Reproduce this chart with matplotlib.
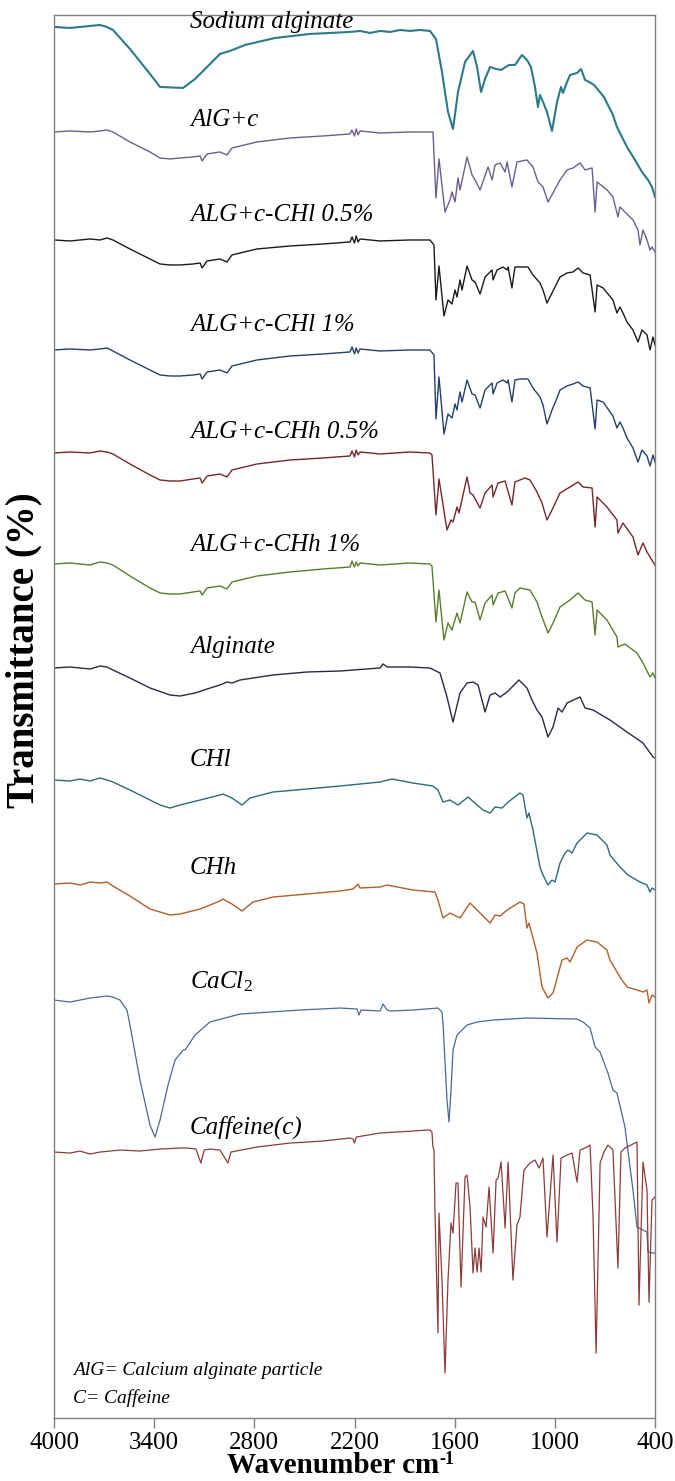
import matplotlib
matplotlib.use("Agg")
import matplotlib.pyplot as plt

# FTIR spectra, stacked. Values are relative transmittance (a.u.) of each trace,
# 0 = its own baseline at 4000 cm-1; offsets place the traces one above another.

sa_wn = [4000, 3904, 3784, 3724, 3683, 3647, 3545, 3425, 3365, 3227, 3155, 3107, 3006, 2946, 2856,
         2676, 2467, 2227, 2167, 2107, 2047, 1987, 1927, 1868, 1808, 1748, 1712, 1676, 1640, 1610,
         1580, 1538, 1490, 1466, 1442, 1418, 1388, 1352, 1322, 1275, 1239, 1197, 1167, 1143, 1119,
         1101, 1089, 1071, 1047, 1017, 987, 963, 951, 927, 909, 867, 843, 819, 795, 765, 706, 652,
         628, 568, 520, 478, 442, 418, 400]
sa_t = [0, -1, 1, 2, 0, -3, -22, -47, -60, -61, -52, -44, -27, -24, -18,
        -11, -7, -5, -4, -6, -4, -5, -3, -4, -3, -4, -12, -45, -85, -102,
        -65, -35, -24, -40, -65, -52, -40, -42, -43, -38, -38, -28, -33, -40, -60,
        -80, -68, -75, -85, -104, -75, -60, -66, -55, -48, -46, -42, -53, -55, -58, -70, -88,
        -100, -120, -133, -145, -153, -160, -170]

algc_wn = [4000, 3904, 3784, 3724, 3683, 3647, 3545, 3425, 3365, 3305, 3245, 3167, 3125, 3113, 3083,
           3006, 2964, 2934, 2784, 2586, 2389, 2227, 2215, 2200, 2190, 2179, 2167, 2047, 1868, 1748,
           1730, 1712, 1694, 1658, 1628, 1616, 1598, 1580, 1568, 1526, 1496, 1478, 1448, 1400, 1376,
           1358, 1328, 1298, 1286, 1257, 1227, 1167, 1131, 1101, 1071, 1041, 1011, 969, 927, 891,
           849, 819, 777, 759, 747, 687, 652, 622, 610, 532, 502, 490, 472, 448, 430, 418, 400]
algc_t = [0, 1, 0, 1, 2, 0, -10, -20, -26, -27, -26, -25, -24, -29, -22,
          -20, -23, -16, -10, -6, -4, -2, 2, -4, 3, -3, 1, -1, 0, 0,
          0, -66, -27, -80, -68, -60, -70, -46, -58, -25, -43, -48, -58, -35, -48,
          -33, -31, -40, -30, -55, -30, -28, -35, -50, -55, -70, -61, -48, -38, -36,
          -31, -38, -36, -80, -50, -58, -65, -85, -75, -88, -98, -113, -98, -108, -118, -115, -120]

# wavenumbers of the flat high-frequency part, shared by the ALG+c-CH blends
blend_left_wn = [4000, 3904, 3784, 3724, 3683, 3647, 3545, 3425, 3365, 3305, 3245, 3167, 3125, 3113,
                 3083, 3006, 2964, 2934, 2784, 2586, 2389, 2227, 2215, 2200, 2190, 2179, 2167, 2047,
                 1868, 1748]

chl05_wn = blend_left_wn + [1724, 1712, 1694, 1664, 1640, 1616, 1598, 1586, 1568, 1556, 1526, 1496,
                            1478, 1448, 1418, 1376, 1370, 1346, 1310, 1286, 1280, 1257, 1239, 1209,
                            1161, 1131, 1089, 1071, 1047, 1017, 987, 969, 927, 891, 861, 831, 789,
                            759, 747, 711, 652, 628, 610, 592, 568, 532, 502, 478, 448, 430, 412, 400]
chl05_t = [0, -1, 1, 0, 2, 0, -9, -19, -24, -25, -25, -24, -23, -28,
           -21, -19, -22, -15, -9, -6, -4, -2, 3, -3, 4, -2, 1, -1,
           0, 0,
           -5, -60, -26, -76, -60, -64, -50, -57, -40, -50, -26, -40,
           -42, -54, -37, -30, -40, -30, -27, -30, -27, -48, -27, -27,
           -27, -35, -43, -50, -63, -53, -43, -37, -33, -32, -28, -33, -35,
           -72, -45, -48, -60, -73, -67, -73, -82, -90, -102, -90, -95, -110, -97, -105]

chl1_wn = chl05_wn
chl1_t = [0, 1, 0, 1, 2, -1, -10, -20, -25, -26, -26, -25, -24, -29,
          -22, -20, -23, -16, -10, -6, -4, -2, 3, -4, 2, -3, 1, -1,
          0, 0,
          -5, -69, -27, -84, -64, -68, -54, -60, -42, -52, -30, -44,
          -45, -58, -40, -33, -44, -33, -30, -33, -30, -52, -30, -29,
          -29, -38, -47, -55, -74, -60, -48, -40, -36, -34, -32, -36, -38,
          -79, -50, -52, -66, -78, -72, -78, -88, -98, -112, -100, -106, -116, -105, -112]

chh05_wn = blend_left_wn + [1736, 1712, 1694, 1646, 1622, 1610, 1586, 1574, 1526, 1508, 1490, 1448,
                            1418, 1376, 1370, 1340, 1298, 1257, 1239, 1179, 1149, 1107, 1077, 1047,
                            1017, 969, 909, 861, 831, 777, 759, 747, 688, 628, 622, 592, 532, 502,
                            472, 448, 430, 412, 400]
chh05_t = [0, 1, 0, 2, 1, -1, -11, -22, -27, -28, -28, -26, -25, -30,
           -23, -21, -24, -17, -11, -7, -5, -3, 2, -4, 3, -2, 1, -1,
           1, 0,
           -2, -62, -26, -77, -67, -69, -54, -60, -24, -40, -42, -55,
           -40, -32, -44, -30, -28, -52, -29, -25, -27, -39, -50, -67,
           -57, -40, -34, -29, -34, -35, -74, -44, -54, -67, -80, -70, -84, -102,
           -90, -99, -104, -109, -112]

chh1_wn = blend_left_wn + [1736, 1712, 1694, 1664, 1640, 1616, 1586, 1568, 1526, 1496, 1478, 1448,
                           1418, 1376, 1370, 1340, 1298, 1257, 1239, 1209, 1149, 1107, 1077, 1041,
                           1011, 969, 909, 861, 819, 777, 759, 747, 688, 628, 622, 580, 508, 472,
                           430, 412, 400]
chh1_t = [0, 1, -1, 2, 1, -1, -12, -24, -29, -30, -30, -28, -27, -31,
          -24, -22, -25, -18, -12, -8, -5, -3, 3, -3, 2, -2, 1, -1,
          1, 0,
          -2, -58, -26, -76, -59, -66, -49, -59, -28, -38, -38, -56,
          -39, -31, -41, -29, -27, -44, -29, -24, -26, -38, -53, -69,
          -59, -43, -36, -29, -36, -38, -71, -46, -56, -73, -83, -80, -89, -99,
          -113, -109, -114]

alg_wn = [4000, 3904, 3844, 3784, 3724, 3683, 3647, 3545, 3425, 3305, 3245, 3155, 3083, 3006, 2964,
          2934, 2886, 2688, 2485, 2287, 2047, 2029, 2005, 1868, 1748, 1688, 1646, 1610, 1568, 1526,
          1490, 1460, 1418, 1388, 1358, 1328, 1286, 1215, 1167, 1137, 1107, 1077, 1041, 1011, 981,
          957, 927, 849, 819, 771, 670, 568, 472, 412, 400]
alg_t = [0, 1, 0, -1, 2, 1, -2, -10, -20, -27, -28, -25, -21, -17, -14,
         -15, -12, -7, -4, -3, 0, 4, 1, 1, 0, -5, -29, -54, -25, -15,
         -14, -17, -44, -27, -25, -29, -24, -12, -20, -32, -42, -49, -69, -59, -40,
         -44, -35, -29, -40, -42, -52, -64, -75, -89, -90]

chl_wn = [4000, 3904, 3844, 3784, 3724, 3683, 3647, 3545, 3425, 3365, 3305, 3245, 3125, 3006, 2988,
          2934, 2874, 2826, 2688, 2485, 2287, 2167, 2107, 2047, 1975, 1850, 1730, 1700, 1670, 1628,
          1580, 1520, 1466, 1430, 1388, 1358, 1316, 1280, 1209, 1191, 1167, 1155, 1131, 1089, 1071,
          1041, 1017, 999, 969, 939, 921, 897, 867, 807, 747, 688, 670, 610, 562, 490, 448, 430,
          418, 400]
chl_t = [0, -1, 1, -1, 2, 0, -2, -10, -20, -25, -28, -25, -20, -15, -14,
         -18, -25, -18, -12, -9, -6, -4, -3, -2, 1, -3, -6, -10, -22, -20,
         -25, -17, -25, -30, -33, -27, -28, -22, -13, -15, -38, -33, -50, -87, -95,
         -105, -100, -102, -83, -73, -70, -73, -63, -53, -55, -65, -75, -87, -95, -102, -105, -112,
         -108, -110]

chh_wn = [4000, 3904, 3844, 3784, 3724, 3683, 3647, 3545, 3425, 3305, 3245, 3125, 3006, 2988, 2934,
          2874, 2808, 2688, 2485, 2287, 2209, 2179, 2167, 2047, 2005, 1850, 1718, 1700, 1670, 1628,
          1568, 1508, 1448, 1388, 1358, 1328, 1286, 1209, 1185, 1167, 1155, 1107, 1077, 1041, 1011,
          957, 927, 909, 867, 807, 747, 688, 670, 610, 568, 508, 472, 448, 436, 418, 400]
chh_t = [0, 1, -1, 2, 1, 2, -2, -12, -25, -31, -30, -25, -17, -15, -20,
         -27, -18, -13, -10, -7, -5, 0, -4, -3, -1, -6, -8, -16, -34, -29,
         -34, -19, -29, -39, -31, -32, -26, -18, -20, -44, -39, -69, -103, -114, -109,
         -76, -74, -78, -63, -56, -58, -66, -76, -93, -103, -106, -108, -106, -119, -111, -113]

cacl2_wn = [4000, 3904, 3784, 3683, 3647, 3605, 3563, 3545, 3485, 3425, 3395, 3365, 3317, 3275, 3227,
            3215, 3155, 3066, 2886, 2526, 2287, 2185, 2173, 2161, 2047, 2029, 2005, 1987, 1850, 1700,
            1676, 1670, 1646, 1634, 1622, 1610, 1586, 1526, 1466, 1370, 1167, 867, 831, 789, 759,
            729, 682, 652, 628, 580, 568, 532, 508, 472, 448, 442, 418, 400]
cacl2_t = [0, -2, 2, 4, 3, 0, -10, -25, -80, -125, -137, -120, -85, -60, -50,
           -50, -35, -22, -14, -10, -8, -9, -15, -10, -11, -4, -10, -11, -10, -8,
           -12, -23, -100, -122, -90, -50, -35, -25, -22, -20, -18, -19, -22, -28, -47,
           -52, -73, -90, -93, -127, -143, -190, -227, -230, -232, -252, -253, -253]

caf_wn = [4000, 3904, 3844, 3784, 3724, 3605, 3485, 3365, 3245, 3203, 3150, 3120, 3100, 3066, 3006,
          2958, 2940, 2784, 2586, 2389, 2227, 2209, 2200, 2190, 2047, 1850, 1766, 1748, 1736, 1730,
          1724, 1718, 1700, 1694, 1676, 1658, 1640, 1622, 1610, 1592, 1580, 1562, 1538, 1526, 1508,
          1490, 1478, 1466, 1454, 1442, 1430, 1412, 1394, 1370, 1352, 1340, 1322, 1298, 1280, 1251,
          1227, 1209, 1185, 1149, 1119, 1095, 1071, 1047, 1011, 987, 963, 927, 897, 867, 849, 807,
          789, 771, 753, 729, 706, 682, 652, 622, 604, 580, 544, 508, 496, 472, 448, 436, 418, 400]
caf_t = [0, -1, 1, -2, 0, 2, 1, 3, 4, 4, 3, -11, 2, 3, 2,
         -11, 0, 5, 9, 11, 14, 13, 9, 15, 19, 21, 22, 22, 20, 5,
         2, -61, -181, -61, -128, -221, -128, -71, -81, -31, -31, -135, -25, -23, -55,
         -121, -96, -120, -96, -120, -65, -75, -35, -101, -28, -26, -10, -76, -10, -128,
         -73, -65, -18, -11, -8, -16, -6, -85, -3, -90, -6, -3, -1, -30, 2, 5,
         7, -66, -201, -11, 0, 7, 2, -116, 0, 4, 7, 10, -153, -10, -38, -150, -48, -45]

spectra = [
    ("Sodium alginate", sa_wn, sa_t, 1391, "#2b7a8b", 1.5),
    ("AlG+c", algc_wn, algc_t, 1286, "#6d5e90", 1.0),
    ("ALG+c-CHl 0.5%", chl05_wn, chl05_t, 1178, "#1a1a1a", 1.0),
    ("ALG+c-CHl 1%", chl1_wn, chl1_t, 1068, "#253f6c", 1.0),
    ("ALG+c-CHh 0.5%", chh05_wn, chh05_t, 965, "#74282c", 1.0),
    ("ALG+c-CHh 1%", chh1_wn, chh1_t, 854, "#5a7d2c", 1.0),
    ("Alginate", alg_wn, alg_t, 750, "#29284a", 1.0),
    ("CHl", chl_wn, chl_t, 638, "#2b6b7c", 1.0),
    ("CHh", chh_wn, chh_t, 534, "#b35f27", 1.0),
    ("CaCl$_\\mathit{2}$", cacl2_wn, cacl2_t, 418, "#4a6898", 0.9),
    ("Caffeine(c)", caf_wn, caf_t, 266, "#8c3b3b", 0.9),
]
label_y = [1396, 1298, 1203, 1093, 986, 873, 771, 658, 550, 436, 291]

ticks = [4000, 3400, 2800, 2200, 1600, 1000, 400]

plt.rcParams["font.family"] = ["Liberation Serif", "DejaVu Serif"]
plt.rcParams["mathtext.fontset"] = "custom"
plt.rcParams["mathtext.rm"] = "Liberation Serif"
plt.rcParams["mathtext.it"] = "Liberation Serif:italic"
plt.rcParams["mathtext.bf"] = "Liberation Serif:bold"

fig = plt.figure(figsize=(6.75, 14.81), dpi=100)
ax = fig.add_axes([0.080, 0.0425, 0.8904, 0.9474])

for (name, wn, t, off, color, lw), ly in zip(spectra, label_y):
    ax.plot(wn, [v + off for v in t], color=color, lw=lw)
    ax.text(3185, ly, name, fontsize=18, style="italic", va="center", ha="left")

ax.text(3885, 48, "AlG= Calcium alginate particle", fontsize=14, style="italic", va="center")
ax.text(3885, 20, "C= Caffeine", fontsize=14, style="italic", va="center")

ax.set_xlim(4000, 400)
ax.set_ylim(0, 1403)
ax.set_xticks(ticks)
ax.set_xticklabels([str(t) for t in ticks], fontsize=18)
ax.set_yticks([])
ax.tick_params(axis="x", direction="out", length=7, width=1, color="#808080", pad=3)
for s in ax.spines.values():
    s.set_color("#808080")
    s.set_linewidth(1.0)

xl = ax.set_xlabel("Wavenumber cm", fontsize=21, fontweight="bold")
ax.xaxis.set_label_coords(0.465, -0.0245)
ax.annotate("-1", xy=(1.0, 0.72), xycoords=xl, fontsize=13, fontweight="bold",
            ha="left", va="center")
fig.text(24 / 675, 1 - 650 / 1481, "Transmittance (%)", rotation=90, fontsize=28,
         fontweight="bold", ha="center", va="center")

fig.savefig("out.png", dpi=100)
